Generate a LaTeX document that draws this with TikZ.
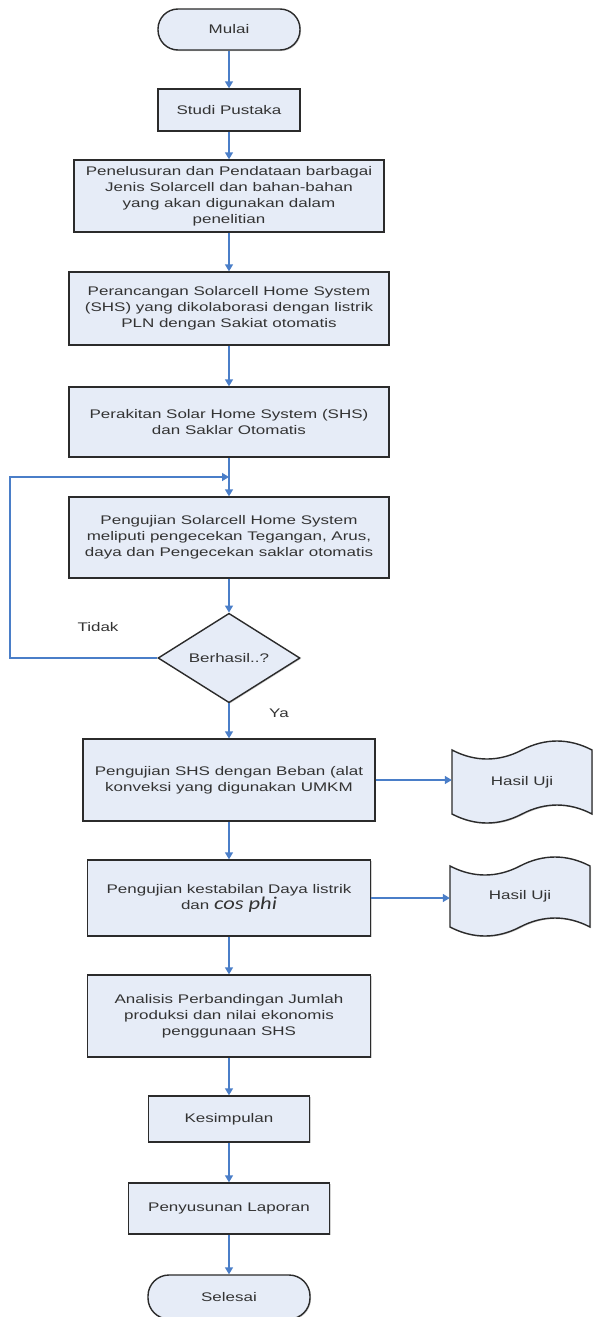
\documentclass[tikz,border=0pt]{standalone}
\usepackage{fontspec}
\setmainfont{Liberation Sans}[FakeStretch=1.36]
\newfontfamily\cosfont{Carlito}[FakeStretch=1.25]
\usetikzlibrary{arrows.meta,shapes.geometric,shadows}
\definecolor{boxfill}{HTML}{E6ECF7}
\definecolor{arrowblue}{HTML}{4A7EC8}
\definecolor{edgegray}{HTML}{2B2B2B}
\definecolor{textgray}{HTML}{333333}
\newcommand\hasilpath[3]{%
  \filldraw[hasilshape] (#1,#2) .. controls +(23,12) and +(-23,12) .. ++(70,0)
    .. controls +(23,-12) and +(-23,-12) .. ++(70,0) -- ++(0,#3)
    .. controls +(-23,-12) and +(23,-12) .. ++(-70,0)
    .. controls +(-23,12) and +(23,12) .. ++(-70,0) -- cycle;}
\begin{document}
\begin{tikzpicture}[x=1pt,y=-1pt,
  txt/.style={text=textgray, font=\fontsize{12.5}{16}\selectfont},
  base/.style={txt, draw=edgegray, line width=1.4pt, fill=boxfill, align=center, inner sep=0pt,
    drop shadow={shadow xshift=1pt,shadow yshift=-1pt,opacity=0.35}},
  proc/.style={base, rectangle},
  term/.style={base, rectangle, rounded corners=20pt},
  dec/.style={base, diamond},
  hasilshape/.style={draw=edgegray, line width=1.4pt, fill=boxfill,
    drop shadow={shadow xshift=1pt,shadow yshift=-1pt,opacity=0.35}},
  arr/.style={draw=arrowblue, line width=1.4pt, -{Triangle[width=8pt,length=7pt]}},
  lbl/.style={txt, inner sep=0pt}
]
\useasboundingbox[fill=white] (0,0) rectangle (592,1317);

\node[term, minimum width=142pt, minimum height=41pt] (mulai) at (229,29.5) {Mulai};
\node[proc, minimum width=142pt, minimum height=42pt] (studi) at (229,110) {Studi Pustaka};
\node[proc, minimum width=310pt, minimum height=72pt] (pen) at (229,196)
  {Penelusuran dan Pendataan barbagai\\Jenis Solarcell dan bahan-bahan\\yang akan digunakan dalam\\penelitian};
\node[proc, minimum width=320pt, minimum height=73pt] (ranc) at (229,308.5)
  {Perancangan Solarcell Home System\\(SHS) yang dikolaborasi dengan listrik\\PLN dengan Sakiat otomatis};
\node[proc, minimum width=320pt, minimum height=70pt] (rakit) at (229,422)
  {Perakitan Solar Home System (SHS)\\dan Saklar Otomatis};
\node[proc, minimum width=320pt, minimum height=81pt] (uji) at (229,537.5)
  {Pengujian Solarcell Home System\\meliputi pengecekan Tegangan, Arus,\\daya dan Pengecekan saklar otomatis};
\node[dec, minimum width=142pt, minimum height=80pt] (dia) at (229,658) {Berhasil..?};
\node[proc, minimum width=292pt, minimum height=82pt] (shs) at (229,780)
  {Pengujian SHS dengan Beban (alat\\konveksi yang digunakan UMKM};
\node[proc, minimum width=283pt, minimum height=76pt] (kest) at (229,898)
  {Pengujian kestabilan Daya listrik\\dan {\cosfont\itshape\fontsize{18}{16}\selectfont cos phi}};
\node[proc, minimum width=283pt, minimum height=82pt] (anal) at (229,1016)
  {Analisis Perbandingan Jumlah\\produksi dan nilai ekonomis\\penggunaan SHS};
\node[proc, minimum width=161pt, minimum height=46pt] (kes) at (229,1119) {Kesimpulan};
\node[proc, minimum width=201pt, minimum height=51pt] (peny) at (229,1208.5) {Penyusunan Laporan};
\node[term, minimum width=162pt, minimum height=44pt, rounded corners=21pt] (sel) at (229,1297) {Selesai};

\hasilpath{452}{750}{64}
\node[lbl, minimum width=140pt, minimum height=64pt] (h1) at (522,782) {Hasil Uji};
\hasilpath{450}{866}{61}
\node[lbl, minimum width=140pt, minimum height=61pt] (h2) at (520,896.5) {Hasil Uji};

\node[lbl] (tidak) at (98,627) {Tidak};
\node[lbl] (ya) at (279,713) {Ya};

\coordinate (lc) at (10,477);
\coordinate (lp) at (229,477);

\draw[arr] (mulai) -- (studi);
\draw[arr] (studi) -- (pen);
\draw[arr] (pen) -- (ranc);
\draw[arr] (ranc) -- (rakit);
\draw[arr] (rakit) -- (uji);
\draw[arr] (uji) -- (dia);
\draw[arr] (dia) -- (shs);
\draw[arr] (shs) -- (kest);
\draw[arr] (kest) -- (anal);
\draw[arr] (anal) -- (kes);
\draw[arr] (kes) -- (peny);
\draw[arr] (peny) -- (sel);
\draw[arr] (shs.east) -- (shs.east -| h1.west);
\draw[arr] (kest.east) -- (kest.east -| h2.west);
\draw[arr] (dia.west) -| (lc) -- (lp);
\end{tikzpicture}
\end{document}
